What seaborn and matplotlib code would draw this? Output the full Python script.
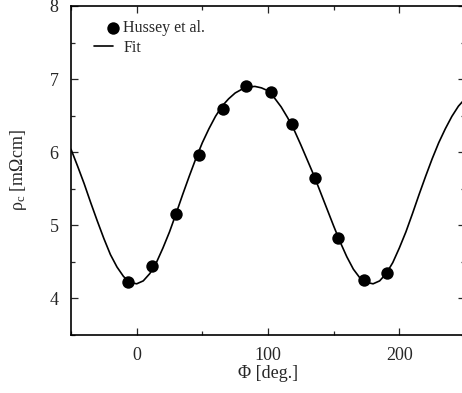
import numpy as np
import pandas as pd
import matplotlib
matplotlib.use("Agg")
import matplotlib.pyplot as plt
import seaborn as sns
from matplotlib.ticker import MultipleLocator
from matplotlib.legend_handler import HandlerPathCollection

# Hussey et al. data points
phi_data = [-6.9, 11.9, 29.7, 47.4, 65.5, 83.2, 102.3, 118.0, 135.8, 153.5, 172.9, 190.6]
rho_data = [4.22, 4.44, 5.16, 5.96, 6.59, 6.90, 6.82, 6.38, 5.65, 4.83, 4.25, 4.35]

# fit curve, read every 5 degrees
phi_fit = list(range(-50, 255, 5))
rho_fit = [6.04, 5.81, 5.57, 5.31, 5.06, 4.82, 4.60, 4.43, 4.30, 4.22,
           4.20, 4.24, 4.34, 4.49, 4.69, 4.91, 5.16, 5.42, 5.67, 5.91,
           6.13, 6.32, 6.49, 6.63, 6.73, 6.81, 6.86, 6.89, 6.90, 6.88,
           6.84, 6.74, 6.62, 6.47, 6.30, 6.10, 5.89, 5.68, 5.45, 5.22,
           4.99, 4.77, 4.57, 4.40, 4.28, 4.22, 4.20, 4.24, 4.34, 4.49,
           4.69, 4.91, 5.16, 5.42, 5.67, 5.91, 6.13, 6.32, 6.49, 6.63,
           6.73]

data = pd.DataFrame({"phi": phi_data, "rho": rho_data})
fit = pd.DataFrame({"phi": phi_fit, "rho": rho_fit})


class RightPoint(HandlerPathCollection):
    # put the legend dot at the right end of the handle, like the original
    def get_xdata(self, legend, xdescent, ydescent, width, height, fontsize):
        x = [-xdescent + width]
        return x, x


sns.set_style("ticks")
plt.rcParams["font.family"] = ["Liberation Serif", "DejaVu Serif"]
plt.rcParams["mathtext.fontset"] = "custom"
plt.rcParams["mathtext.rm"] = "Liberation Serif"
plt.rcParams["mathtext.it"] = "Liberation Serif:italic"

fig = plt.figure(figsize=(4.62, 3.93), dpi=100)
ax = fig.add_axes([0.1537, 0.1476, 0.8528, 0.8372])

sns.scatterplot(data=data, x="phi", y="rho", ax=ax, color="black", s=80,
                edgecolor="black", linewidth=0, zorder=3, label="Hussey et al.")
sns.lineplot(data=fit, x="phi", y="rho", ax=ax, color="black", linewidth=1.2,
             zorder=2, label="Fit")

ax.set_xlim(-50, 250)
ax.set_ylim(3.5, 8)
ax.xaxis.set_major_locator(MultipleLocator(100))
ax.xaxis.set_minor_locator(MultipleLocator(50))
ax.yaxis.set_major_locator(MultipleLocator(1))
ax.yaxis.set_minor_locator(MultipleLocator(0.5))
ax.tick_params(which="both", direction="in", top=True, right=True, width=0.9, labelsize=13)
ax.tick_params(which="major", length=5)
ax.tick_params(which="minor", length=3)
ax.tick_params(axis="x", which="major", pad=8.5)
ax.tick_params(axis="y", which="major", pad=9)
for sp in ax.spines.values():
    sp.set_linewidth(1.2)
    sp.set_color("black")

ax.set_xlabel("Φ [deg.]", fontsize=13, labelpad=1)
ax.set_ylabel(r"ρ$_\mathrm{c}$ [mΩcm]", fontsize=13, labelpad=15)

handles, labels = ax.get_legend_handles_labels()
order = [labels.index("Hussey et al."), labels.index("Fit")]
pts = handles[order[0]]
ax.legend([handles[i] for i in order], [labels[i] for i in order],
          loc="upper left", frameon=False, fontsize=11.5, handlelength=1.15,
          handletextpad=0.65, borderaxespad=0.4, labelspacing=0.25,
          bbox_to_anchor=(0.027, 0.997), handler_map={pts: RightPoint()})

fig.savefig("out.png", dpi=100)
